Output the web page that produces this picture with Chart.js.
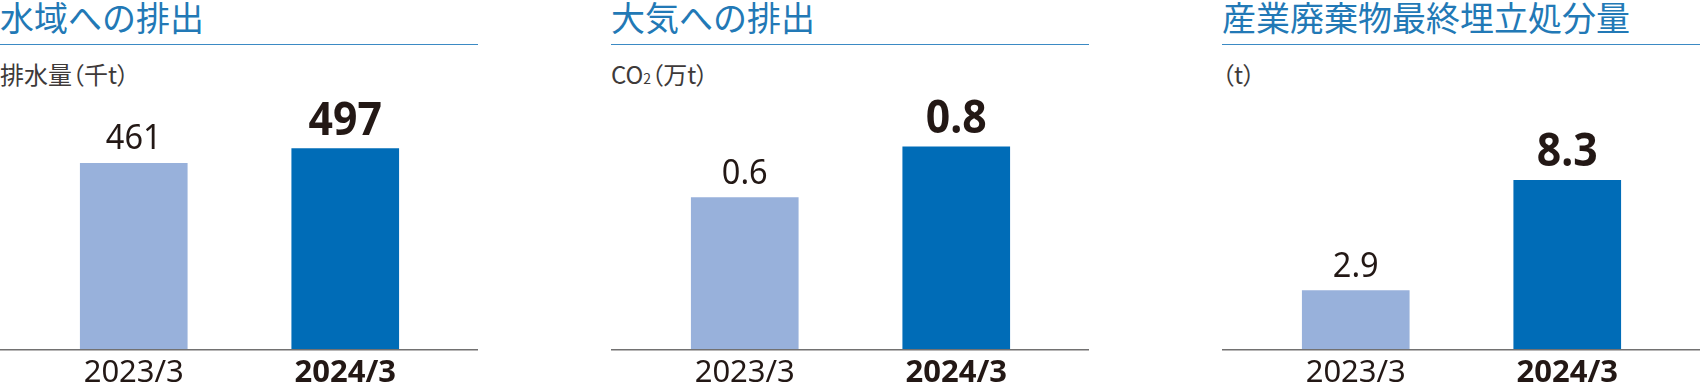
<!DOCTYPE html>
<html lang="ja">
<head>
<meta charset="utf-8">
<script src="https://cdn.jsdelivr.net/npm/chart.js@4.4.1/dist/chart.umd.min.js"></script>
<style>
  html, body { margin: 0; padding: 0; background: #fff; }
  body { width: 1700px; height: 390px; position: relative; overflow: hidden; }
  .panel { position: absolute; top: 0; width: 478px; height: 390px; overflow: hidden; }
  .ttl {
    position: absolute; left: 0; top: 0; white-space: nowrap;
    font: 34px/34px "Noto Sans CJK JP"; color: #2279b6;
  }
  .rule { position: absolute; left: 0; top: 44px; width: 100%; height: 1px; background: #3b8ac4; }
  .sub {
    position: absolute; left: 0; top: 61px; white-space: nowrap;
    font: 24px/26px "Noto Sans CJK JP"; color: #3e3a39;
    font-feature-settings: "palt";
  }
  .sub .s2 { font-size: 14px; }
  .cv { position: absolute; left: 0; top: 90px; width: 478px; height: 307px; }
</style>
</head>
<body>
<div class="panel" style="left:0px">
  <div class="ttl">水域への排出</div>
  <div class="rule"></div>
  <div class="sub">排水量（千t）</div>
  <div class="cv"><canvas id="waterChart"></canvas></div>
</div>
<div class="panel" style="left:611px">
  <div class="ttl">大気への排出</div>
  <div class="rule"></div>
  <div class="sub">CO<span class="s2">2</span>（万t）</div>
  <div class="cv"><canvas id="airChart"></canvas></div>
</div>
<div class="panel" style="left:1222px">
  <div class="ttl">産業廃棄物最終埋立処分量</div>
  <div class="rule"></div>
  <div class="sub">（t）</div>
  <div class="cv"><canvas id="wasteChart"></canvas></div>
</div>
<script>
const categories = ['2023/3', '2024/3'];
const waterValues = [461, 497];
const airValues = [0.6, 0.8];
const wasteValues = [2.9, 8.3];

const barColors = ['#98b1db', '#006cb7'];
const textColor = '#231815';

// numbers above the bars, second one bold and bigger
const valueLabels = {
  id: 'valueLabels',
  afterDatasetsDraw(chart) {
    const ctx = chart.ctx;
    const values = chart.data.datasets[0].data;
    const meta = chart.getDatasetMeta(0);
    ctx.save();
    ctx.fillStyle = textColor;
    ctx.textAlign = 'center';
    ctx.textBaseline = 'alphabetic';
    meta.data.forEach((bar, i) => {
      ctx.font = i === 1 ? 'bold 46px "Noto Sans"' : '35px "Noto Sans"';
      const text = String(values[i]);
      const w = ctx.measureText(text).width;
      ctx.fillText(text, bar.x, bar.y - 14, w * 0.93);
    });
    ctx.restore();
  }
};

// baseline runs the full width of the panel
const baseLine = {
  id: 'baseLine',
  afterDatasetsDraw(chart) {
    const ctx = chart.ctx;
    const y = chart.scales.y.getPixelForValue(0);
    ctx.save();
    ctx.strokeStyle = '#727171';
    ctx.lineWidth = 1.5;
    ctx.beginPath();
    ctx.moveTo(0, y);
    ctx.lineTo(chart.width, y);
    ctx.stroke();
    ctx.restore();
  }
};

function makeChart(id, values, yMax) {
  const ctx = document.getElementById(id).getContext('2d');
  return new Chart(ctx, {
    type: 'bar',
    data: {
      labels: categories,
      datasets: [{
        data: values,
        backgroundColor: barColors,
        barThickness: 107,
        borderWidth: 0
      }]
    },
    options: {
      responsive: true,
      maintainAspectRatio: false,
      animation: false,
      layout: {
        padding: { left: 28, right: 27, top: 0, bottom: 0 }
      },
      scales: {
        y: {
          display: false,
          min: 0,
          max: yMax
        },
        x: {
          grid: { display: false, drawTicks: false },
          border: { display: false },
          ticks: {
            color: textColor,
            padding: 5,
            autoSkip: false,
            maxRotation: 0,
            font: (c) => ({
              family: '"Noto Sans"',
              size: 31,
              weight: c.index === 1 ? 'bold' : 'normal'
            })
          }
        }
      },
      plugins: {
        legend: { display: false },
        tooltip: { enabled: false }
      }
    },
    plugins: [valueLabels, baseLine]
  });
}

makeChart('waterChart', waterValues, 642);
makeChart('airChart', airValues, 1.024);
makeChart('wasteChart', wasteValues, 12.73);
</script>
</body>
</html>
